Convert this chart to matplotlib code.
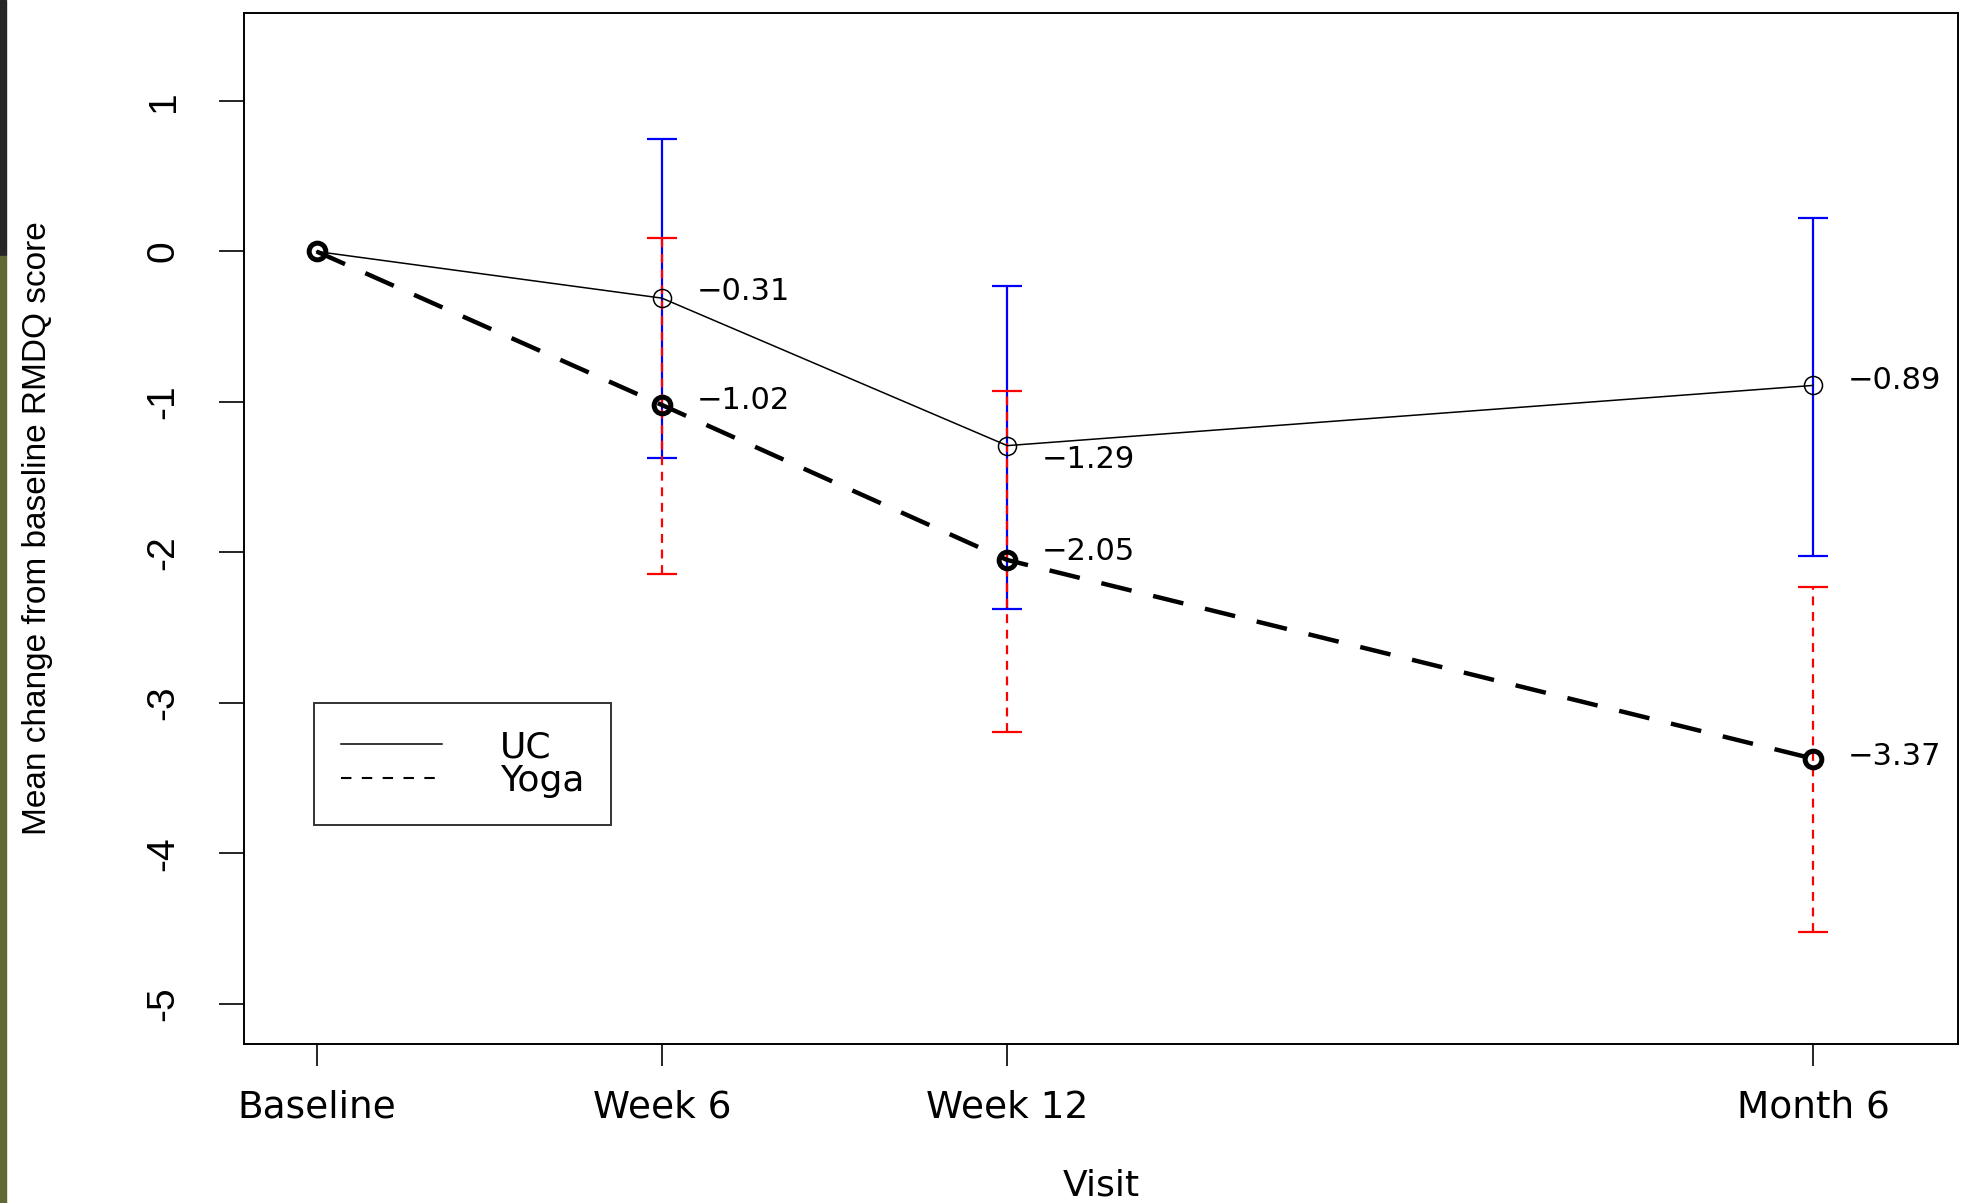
#
# Mean change from baseline in RMDQ score, UC vs Yoga, with 95% CI bars
#
import matplotlib
matplotlib.use("Agg")
import matplotlib.pyplot as plt
from matplotlib.lines import Line2D
from matplotlib.patches import Rectangle

visits = ["Baseline", "Week 6", "Week 12", "Month 6"]
weeks = [0, 6, 12, 26]

uc_mean = [0.0, -0.31, -1.29, -0.89]
uc_low = [None, -1.375, -2.375, -2.025]
uc_high = [None, 0.75, -0.23, 0.225]

yoga_mean = [0.0, -1.02, -2.05, -3.37]
yoga_low = [None, -2.14, -3.19, -4.52]
yoga_high = [None, 0.09, -0.925, -2.23]

# vertical nudge of the value labels (points)
uc_nudge = [0, 5, -10, 3.5]
yoga_nudge = [0, 3.5, 6, 1.5]

fig = plt.figure(figsize=(19.62, 12.03), dpi=100)
# screenshot edge strip
fig.patches.append(Rectangle((0, 0.787), 0.003, 0.213, transform=fig.transFigure, color="#262626", zorder=0))
fig.patches.append(Rectangle((0, 0), 0.003, 0.787, transform=fig.transFigure, color="#5e6a31", zorder=0))

ax = fig.add_axes([0.1244, 0.1322, 0.8736, 0.8574])

# error bars: UC blue solid, Yoga red dashed on top
ci_x = weeks[1:]
uc_m = uc_mean[1:]
ya_m = yoga_mean[1:]
uc_err = [[m - l for m, l in zip(uc_m, uc_low[1:])], [h - m for m, h in zip(uc_m, uc_high[1:])]]
ya_err = [[m - l for m, l in zip(ya_m, yoga_low[1:])], [h - m for m, h in zip(ya_m, yoga_high[1:])]]

ax.errorbar(ci_x, uc_m, yerr=uc_err, fmt="none", ecolor="#0000ff", elinewidth=1.6,
            capsize=11, capthick=1.6, zorder=2)
eb = ax.errorbar(ci_x, ya_m, yerr=ya_err, fmt="none", ecolor="#ff0000", elinewidth=1.6,
                 capsize=11, capthick=1.6, zorder=3)
eb[2][0].set_linestyle((0, (4, 3)))

ax.plot(weeks, uc_mean, color="black", lw=1.1, marker="o", ms=13, mfc="none",
        mec="black", mew=1.1, zorder=4)
ax.plot(weeks, yoga_mean, color="black", lw=3.2, dashes=(7, 5), marker="o", ms=12,
        mfc="none", mec="black", mew=3.6, zorder=5)

for i in range(1, len(weeks)):
    ax.annotate("\u2212%.2f" % abs(uc_mean[i]), (weeks[i], uc_mean[i]),
                xytext=(25, uc_nudge[i]), textcoords="offset points",
                ha="left", va="center", fontsize=22)
    ax.annotate("\u2212%.2f" % abs(yoga_mean[i]), (weeks[i], yoga_mean[i]),
                xytext=(25, yoga_nudge[i]), textcoords="offset points",
                ha="left", va="center", fontsize=22)

ax.set_xlim(-1.26, 28.52)
ax.set_ylim(-5.266, 1.588)

ax.set_xticks(weeks)
ax.set_xticklabels(visits, fontsize=27)
ax.set_yticks([1, 0, -1, -2, -3, -4, -5])
ax.set_yticklabels(["1", "0", "-1", "-2", "-3", "-4", "-5"], rotation=90, va="center",
                   fontsize=28, family=["Liberation Sans Narrow", "Liberation Sans"])
ax.tick_params(axis="x", length=16, width=1.2, pad=17)
ax.tick_params(axis="y", length=18, width=1.2, pad=27)

for s in ax.spines.values():
    s.set_linewidth(1.4)

ax.set_xlabel("Visit", fontsize=26, labelpad=31)
fig.text(0.019, 0.561, "Mean change from baseline RMDQ score", rotation=90,
         ha="center", va="center", fontsize=24,
         family=["Liberation Sans Narrow", "Liberation Sans"])

handles = [Line2D([], [], color="black", lw=1.1),
           Line2D([], [], color="black", lw=1.5, dashes=(5, 5))]
leg = ax.legend(handles, ["UC", "Yoga"], loc="upper left", bbox_to_anchor=(0.0408, 0.3306),
                fontsize=26, frameon=True, fancybox=False, edgecolor="black",
                borderpad=0.75, handlelength=2.8, handletextpad=1.6, labelspacing=0.0,
                borderaxespad=0)
leg.get_frame().set_linewidth(1.4)

fig.savefig("out.png", dpi=100)
